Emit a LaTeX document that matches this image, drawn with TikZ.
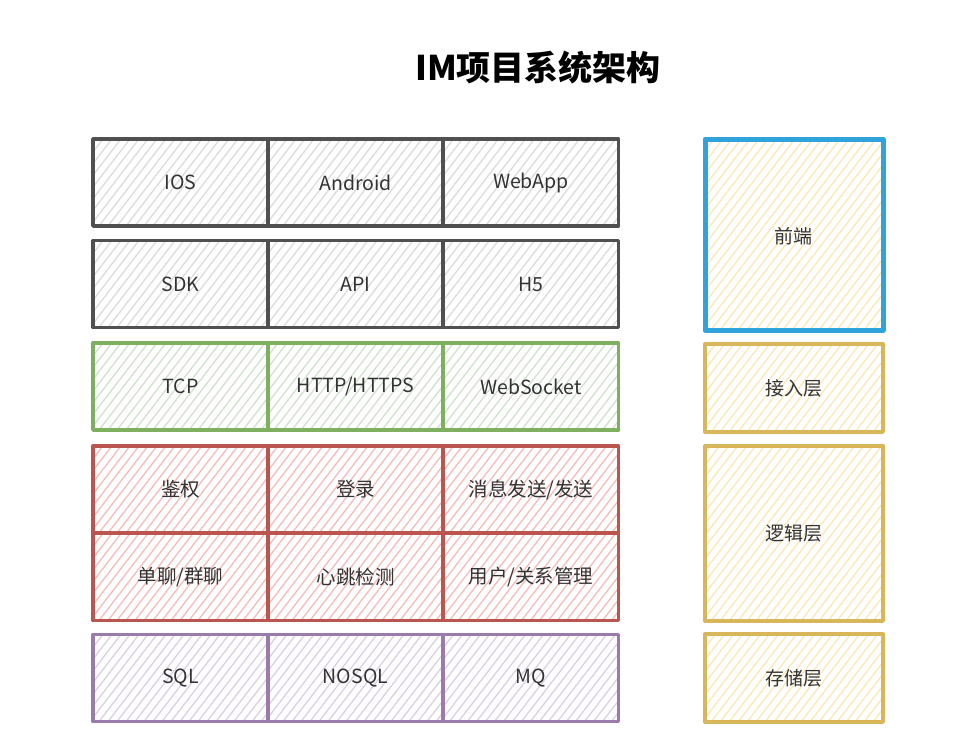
\documentclass[tikz,border=0pt]{standalone}
\usepackage{fontspec}
\setmainfont{Noto Sans CJK SC}
\definecolor{gstroke}{HTML}{505050}\definecolor{gfill}{HTML}{DCDCDC}
\definecolor{vstroke}{HTML}{7FB060}\definecolor{vfill}{HTML}{CFE3CC}
\definecolor{rstroke}{HTML}{BA5550}\definecolor{rfill}{HTML}{F3BDBA}
\definecolor{pstroke}{HTML}{9A7BAA}\definecolor{pfill}{HTML}{DCCFE3}
\definecolor{ystroke}{HTML}{D8B65A}\definecolor{yfill}{HTML}{FAE8B8}
\definecolor{bstroke}{HTML}{2FA4DC}
\definecolor{txt}{HTML}{333333}
\tikzset{
  hatch/.style={path picture={
    \foreach \k in {-300,-291,...,200}{
      \draw[#1,line width=1.3pt] ([xshift=\k pt]path picture bounding box.south west) -- ++(250pt,325pt);
    }}},
  cell/.style 2 args={draw=#1, line width=3.4pt, hatch=#2, minimum width=175pt, minimum height=87pt,
    inner sep=0pt, text=txt, font=\fontsize{19.5}{22}\selectfont, line join=round},
  side/.style 2 args={draw=#1, line width=3.4pt, hatch=#2, minimum width=178pt,
    inner sep=0pt, text=txt, font=\fontsize{19}{22}\selectfont, line join=round},
}
\begin{document}
\begin{tikzpicture}[x=1pt,y=-1pt]
\useasboundingbox (0,0) rectangle (972,748);
\fill[white] (0,0) rectangle (972,748);
\node[font=\fontsize{34}{40}\selectfont\bfseries, text=black] (title) at (538,68) {IM项目系统架构};
% row 1
\node[cell={gstroke}{gfill}] (ios) at (180.5,182.5) {IOS};
\node[cell={gstroke}{gfill}] (android) at (355.5,182.5) {Android};
\node[cell={gstroke}{gfill}] (webapp) at (531,182.5) {WebApp};
% row 2
\node[cell={gstroke}{gfill}] (sdk) at (180.5,284) {SDK};
\node[cell={gstroke}{gfill}] (api) at (355.5,284) {API};
\node[cell={gstroke}{gfill}] (h5) at (531,284) {H5};
% row 3
\node[cell={vstroke}{vfill}] (tcp) at (180.5,386.5) {TCP};
\node[cell={vstroke}{vfill}] (http) at (355.5,386.5) {HTTP/HTTPS};
\node[cell={vstroke}{vfill}] (ws) at (531,386.5) {WebSocket};
% row 4
\node[cell={rstroke}{rfill}] (auth) at (180.5,489.5) {鉴权};
\node[cell={rstroke}{rfill}] (login) at (355.5,489.5) {登录};
\node[cell={rstroke}{rfill}] (msg) at (531,489.5) {消息发送/发送};
% row 5
\node[cell={rstroke}{rfill}] (chat) at (180.5,577) {单聊/群聊};
\node[cell={rstroke}{rfill}] (beat) at (355.5,577) {心跳检测};
\node[cell={rstroke}{rfill}] (user) at (531,577) {用户/关系管理};
% row 6
\node[cell={pstroke}{pfill}] (sql) at (180.5,678) {SQL};
\node[cell={pstroke}{pfill}] (nosql) at (355.5,678) {NOSQL};
\node[cell={pstroke}{pfill}] (mq) at (531,678) {MQ};
% right column
\node[side={bstroke}{yfill}, minimum height=191pt, line width=5pt] (front) at (794,234.5) {};
\node[text=txt, font=\fontsize{19}{22}\selectfont] (frontlbl) at (793,236) {前端};
\node[side={ystroke}{yfill}, minimum height=88pt] (access) at (794,388) {接入层};
\node[side={ystroke}{yfill}, minimum height=175pt] (logic) at (794,533.5) {逻辑层};
\node[side={ystroke}{yfill}, minimum height=88pt] (store) at (794,678) {存储层};
\end{tikzpicture}
\end{document}
